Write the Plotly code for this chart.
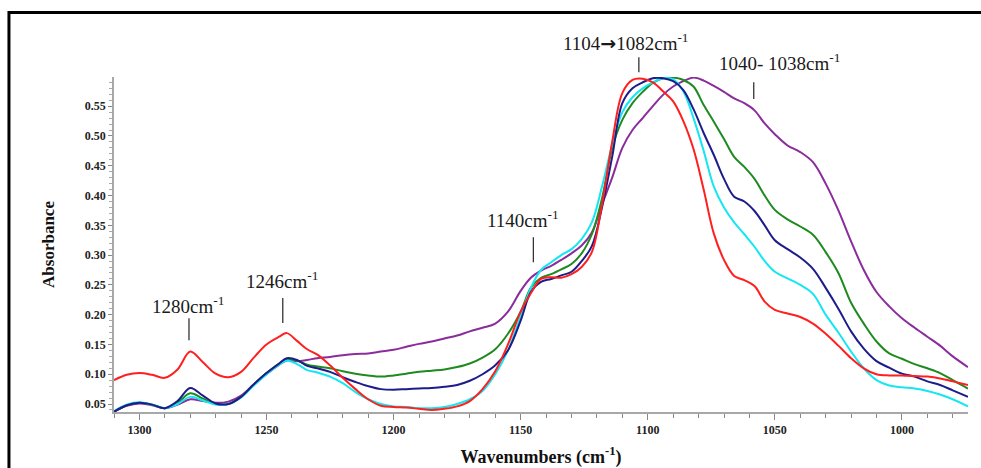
import plotly.graph_objects as go

# Wavenumber grid (cm-1) shared by all spectra
wavenumber = [1310, 1305, 1300, 1295, 1290, 1285, 1280, 1275, 1270, 1265, 1260, 1255, 1250, 1245,
              1242, 1238, 1234, 1230, 1225, 1220, 1215, 1210, 1205, 1200, 1195, 1190, 1185, 1180,
              1175, 1170, 1165, 1160, 1155, 1150, 1146, 1142, 1138, 1134, 1130, 1126, 1122, 1118,
              1114, 1110, 1106, 1102, 1098, 1094, 1090, 1086, 1082, 1078, 1074, 1070, 1066, 1062,
              1058, 1054, 1050, 1045, 1040, 1035, 1030, 1025, 1020, 1015, 1010, 1005, 1000, 995,
              990, 985, 980, 974]

abs_red = [0.090, 0.099, 0.102, 0.099, 0.094, 0.108, 0.138, 0.120, 0.101, 0.095, 0.104, 0.128, 0.150, 0.163,
           0.169, 0.156, 0.142, 0.133, 0.115, 0.094, 0.075, 0.058, 0.047, 0.045, 0.044, 0.042, 0.040, 0.042,
           0.046, 0.055, 0.075, 0.105, 0.150, 0.205, 0.236, 0.260, 0.263, 0.262, 0.268, 0.280, 0.305, 0.385,
           0.490, 0.572, 0.594, 0.596, 0.590, 0.575, 0.558, 0.525, 0.478, 0.410, 0.336, 0.292, 0.265, 0.258,
           0.248, 0.222, 0.208, 0.202, 0.196, 0.185, 0.168, 0.148, 0.127, 0.110, 0.100, 0.098, 0.098, 0.097,
           0.096, 0.093, 0.088, 0.082]

abs_navy = [0.037, 0.048, 0.052, 0.049, 0.043, 0.055, 0.077, 0.064, 0.051, 0.050, 0.062, 0.083, 0.102, 0.118,
            0.127, 0.124, 0.114, 0.110, 0.104, 0.095, 0.087, 0.080, 0.075, 0.074, 0.075, 0.076, 0.077, 0.079,
            0.082, 0.089, 0.100, 0.115, 0.140, 0.190, 0.238, 0.255, 0.260, 0.266, 0.272, 0.290, 0.315, 0.380,
            0.465, 0.555, 0.580, 0.590, 0.597, 0.597, 0.592, 0.577, 0.545, 0.505, 0.468, 0.428, 0.398, 0.390,
            0.374, 0.350, 0.325, 0.310, 0.296, 0.277, 0.245, 0.210, 0.172, 0.143, 0.122, 0.111, 0.101, 0.096,
            0.088, 0.082, 0.073, 0.062]

abs_green = [0.037, 0.048, 0.052, 0.049, 0.043, 0.052, 0.068, 0.059, 0.050, 0.050, 0.062, 0.083, 0.102, 0.118,
             0.125, 0.123, 0.116, 0.113, 0.110, 0.105, 0.101, 0.098, 0.096, 0.098, 0.101, 0.104, 0.106, 0.108,
             0.112, 0.118, 0.128, 0.142, 0.168, 0.205, 0.245, 0.262, 0.268, 0.276, 0.285, 0.303, 0.335, 0.395,
             0.480, 0.527, 0.555, 0.574, 0.589, 0.597, 0.598, 0.594, 0.583, 0.552, 0.524, 0.495, 0.465, 0.448,
             0.428, 0.400, 0.376, 0.360, 0.348, 0.334, 0.305, 0.270, 0.220, 0.185, 0.155, 0.135, 0.126, 0.117,
             0.110, 0.102, 0.090, 0.076]

abs_cyan = [0.038, 0.049, 0.053, 0.049, 0.043, 0.050, 0.062, 0.056, 0.049, 0.050, 0.061, 0.081, 0.100, 0.116,
            0.123, 0.117, 0.107, 0.103, 0.096, 0.085, 0.070, 0.058, 0.050, 0.046, 0.045, 0.043, 0.043, 0.045,
            0.050, 0.058, 0.072, 0.100, 0.140, 0.197, 0.245, 0.275, 0.288, 0.300, 0.310, 0.327, 0.355, 0.415,
            0.485, 0.540, 0.565, 0.580, 0.590, 0.597, 0.595, 0.575, 0.530, 0.475, 0.415, 0.380, 0.355, 0.335,
            0.314, 0.290, 0.272, 0.261, 0.250, 0.235, 0.200, 0.170, 0.138, 0.110, 0.090, 0.081, 0.078, 0.076,
            0.072, 0.066, 0.058, 0.046]

abs_purple = [0.037, 0.047, 0.051, 0.048, 0.043, 0.049, 0.058, 0.055, 0.052, 0.054, 0.064, 0.083, 0.100, 0.116,
              0.123, 0.122, 0.124, 0.127, 0.129, 0.132, 0.134, 0.135, 0.138, 0.141, 0.146, 0.151, 0.155, 0.160,
              0.165, 0.172, 0.178, 0.185, 0.205, 0.240, 0.262, 0.274, 0.282, 0.292, 0.303, 0.316, 0.338, 0.385,
              0.430, 0.480, 0.510, 0.530, 0.550, 0.569, 0.583, 0.592, 0.598, 0.593, 0.584, 0.574, 0.563, 0.555,
              0.543, 0.521, 0.503, 0.484, 0.473, 0.456, 0.420, 0.375, 0.323, 0.275, 0.238, 0.214, 0.194, 0.178,
              0.163, 0.148, 0.130, 0.112]

series = [
    ("purple", abs_purple, "#8a2c9c"),
    ("green", abs_green, "#1f8a1f"),
    ("cyan", abs_cyan, "#14e6f2"),
    ("navy", abs_navy, "#1c1c8a"),
    ("red", abs_red, "#ff1f1f"),
]

# Band labels: text, label position (x, y), marker line x, marker line bottom/top y
band_text = ["1280cm<sup>-1</sup>", "1246cm<sup>-1</sup>", "1140cm<sup>-1</sup>",
             "1104<span style=\"font-family:'DejaVu Sans'\"><b>\u2192</b></span>1082cm<sup>-1</sup>",
             "1040- 1038cm<sup>-1</sup>"]
band_label_x = [1281, 1244, 1149, 1108.5, 1048]
band_label_y = [0.216, 0.259, 0.360, 0.657, 0.624]
band_line_x = [1280.5, 1243.6, 1145, 1103.5, 1058.3]
band_line_y0 = [0.157, 0.186, 0.288, 0.607, 0.562]
band_line_y1 = [0.194, 0.228, 0.330, 0.632, 0.590]

x_range = [1310, 974]
y_range = [0.0366, 0.599]


def y_to_paper(v):
    """Absorbance value -> paper fraction, so labels above the axis top stay visible."""
    return (v - y_range[0]) / (y_range[1] - y_range[0])


serif = "Liberation Serif"

fig = go.Figure()
for name, values, color in series:
    fig.add_trace(go.Scatter(
        x=wavenumber, y=values, mode="lines", name=name,
        line=dict(color=color, width=2, shape="spline", smoothing=1.0),
        showlegend=False,
    ))

for txt, lx, ly in zip(band_text, band_label_x, band_label_y):
    fig.add_annotation(x=lx, y=y_to_paper(ly), xref="x", yref="paper", text=txt, showarrow=False,
                       font=dict(family=serif, size=19, color="#1a1a1a"),
                       xanchor="center", yanchor="middle")

for bx, by0, by1 in zip(band_line_x, band_line_y0, band_line_y1):
    fig.add_shape(type="line", xref="x", yref="paper", x0=bx, x1=bx,
                  y0=y_to_paper(by0), y1=y_to_paper(by1),
                  line=dict(color="#333333", width=1.3))

# outer frame
fig.add_shape(type="rect", xref="paper", yref="paper", x0=-0.123, x1=1.03, y0=-0.25, y1=1.1925,
              line=dict(color="black", width=3), fillcolor="rgba(0,0,0,0)", layer="above")

axis_common = dict(
    showline=True, linecolor="#a8a8a8", linewidth=1.5, mirror=False,
    showgrid=False, zeroline=False,
    ticks="outside", tickcolor="#888888", tickwidth=1,
    tickfont=dict(family=serif, size=12, color="#222222", weight="bold"),
)

fig.update_xaxes(
    range=x_range, tickmode="array", tickvals=[1300, 1250, 1200, 1150, 1100, 1050, 1000],
    ticklen=6,
    minor=dict(tickmode="linear", tick0=1300, dtick=10, ticks="outside", ticklen=4, tickcolor="#888888"),
    title=dict(text="Wavenumbers (cm<sup>-1</sup>)", standoff=18,
               font=dict(family=serif, size=18, color="#111111", weight="bold")),
    **axis_common,
)
fig.update_yaxes(
    range=y_range, tickmode="array",
    tickvals=[0.05, 0.10, 0.15, 0.20, 0.25, 0.30, 0.35, 0.40, 0.45, 0.50, 0.55],
    ticktext=["0.05", "0.10", "0.15", "0.20", "0.25", "0.30", "0.35", "0.40", "0.45", "0.50", "0.55"],
    ticklen=4,
    minor=dict(tickmode="linear", tick0=0.05, dtick=0.01, ticks="outside", ticklen=3, tickcolor="#aaaaaa"),
    title=dict(text="Absorbance", standoff=26,
               font=dict(family=serif, size=17, color="#111111", weight="bold")),
    **axis_common,
)

fig.update_layout(
    width=981, height=468,
    margin=dict(l=114, r=13, t=77, b=56, autoexpand=False),
    paper_bgcolor="white", plot_bgcolor="white",
)

fig.write_html("out.html")
